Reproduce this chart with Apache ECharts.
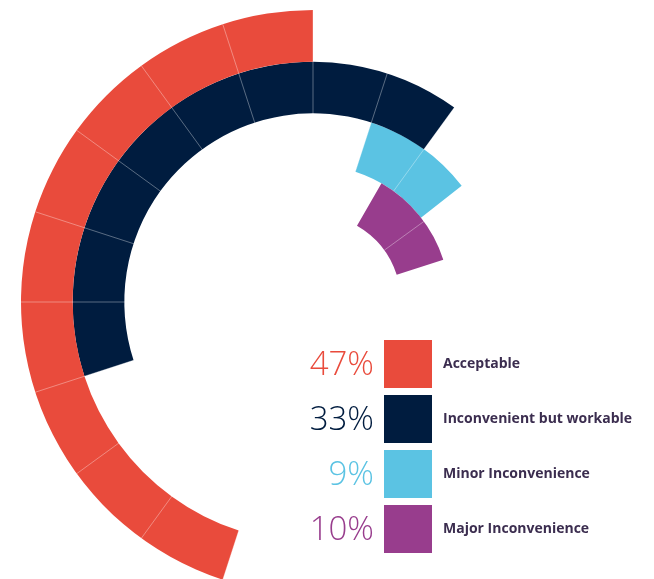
<!DOCTYPE html>
<html>
<head>
<meta charset="utf-8">
<script src="https://cdn.jsdelivr.net/npm/echarts@6/dist/echarts.min.js"></script>
<style>
  html, body { margin: 0; padding: 0; background: #fff; }
  #chart { width: 654px; height: 579px; }
</style>
</head>
<body>
<div id="chart"></div>
<script>
// rings, outer to inner (legend order)
const categories = ['Acceptable', 'Inconvenient but workable', 'Minor Inconvenience', 'Major Inconvenience']
const percents = [47, 33, 9, 10]
// arc of each ring, degrees clockwise from 3 o'clock
const ringStart = [108, 162, 288, 300]
const ringSpan = [162, 144, 34, 42]
const colors = ['#e94b3c', '#001c3f', '#5bc3e3', '#983d8d']

const textColor = '#3b2d4f'
const splitColor = 'rgba(255,255,255,0.35)'

const chart = echarts.init(document.getElementById('chart'))

const angleAxisBase = {
    type: 'value',
    min: 0,
    max: 360,
    startAngle: 0,
    clockwise: true,
    z: 10,
    axisLine: { show: false },
    axisTick: { show: false },
    axisLabel: { show: false },
    splitLine: { show: true, lineStyle: { color: splitColor, width: 1 } }
}
const radiusAxisBase = {
    type: 'category',
    axisLine: { show: false },
    axisTick: { show: false },
    axisLabel: { show: false },
    splitLine: { show: false }
}

// outer polar holds the three outer rings, inner polar the purple one
// (its segment lines sit on a different grid)
const outerIdx = [2, 1, 0]   // inner -> outer
const ringSeries = outerIdx.map((i, k) => ({
    name: categories[i],
    type: 'bar',
    coordinateSystem: 'polar',
    polarIndex: 0,
    stack: 'outer',
    barCategoryGap: '0%',
    itemStyle: { color: colors[i] },
    data: outerIdx.map((j, m) => (m === k ? ringSpan[i] : '-'))
}))

const option = {
    animation: false,
    polar: [
        { center: [313, 302], radius: [137, 292] },
        { center: [313, 302], radius: [88, 137] }
    ],
    angleAxis: [
        Object.assign({}, angleAxisBase, { polarIndex: 0, interval: 18 }),
        Object.assign({}, angleAxisBase, { polarIndex: 1, interval: 36 })
    ],
    radiusAxis: [
        Object.assign({}, radiusAxisBase, { polarIndex: 0, data: outerIdx.map(i => categories[i]) }),
        Object.assign({}, radiusAxisBase, { polarIndex: 1, data: [categories[3]] })
    ],
    legend: {
        data: categories,
        orient: 'vertical',
        left: 384,
        top: 340,
        padding: 0,
        z: 20,
        itemWidth: 48,
        itemHeight: 48,
        itemGap: 7,
        icon: 'rect',
        selectedMode: false,
        textStyle: {
            fontFamily: '"Open Sans", Lato, sans-serif',
            fontWeight: 'bold',
            fontSize: 14,
            color: textColor,
            padding: [2, 0, 0, 6]
        }
    },
    graphic: percents.map((p, i) => ({
        type: 'text',
        right: 654 - 374,
        top: 349 + i * 55,
        z: 20,
        style: {
            text: p + '%',
            fill: colors[i],
            font: '300 33px "Open Sans", Lato, sans-serif'
        }
    })),
    series: [
        {
            type: 'bar',
            coordinateSystem: 'polar',
            polarIndex: 0,
            stack: 'outer',
            barCategoryGap: '0%',
            silent: true,
            itemStyle: { color: 'transparent' },
            data: outerIdx.map(i => ringStart[i])
        },
        ...ringSeries,
        {
            type: 'bar',
            coordinateSystem: 'polar',
            polarIndex: 1,
            stack: 'inner',
            barCategoryGap: '0%',
            silent: true,
            itemStyle: { color: 'transparent' },
            data: [ringStart[3]]
        },
        {
            name: categories[3],
            type: 'bar',
            coordinateSystem: 'polar',
            polarIndex: 1,
            stack: 'inner',
            barCategoryGap: '0%',
            itemStyle: { color: colors[3] },
            data: [ringSpan[3]]
        }
    ]
}

chart.setOption(option)
</script>
</body>
</html>
